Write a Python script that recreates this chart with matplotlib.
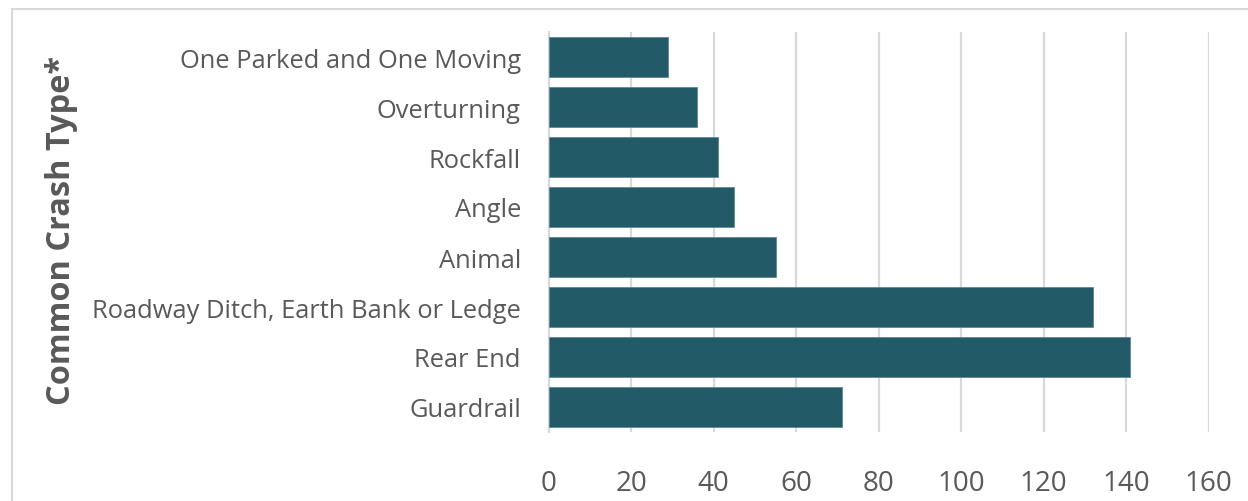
import matplotlib
matplotlib.use("Agg")
import matplotlib.pyplot as plt
from matplotlib.patches import Rectangle

# Crash counts by type (top of list first)
crash_types = [
    "One Parked and One Moving",
    "Overturning",
    "Rockfall",
    "Angle",
    "Animal",
    "Roadway Ditch, Earth Bank or Ledge",
    "Rear End",
    "Guardrail",
]
crash_counts = [29, 36, 41, 45, 55, 132, 141, 71]
x_ticks = [0, 20, 40, 60, 80, 100, 120, 140, 160]

BAR_COLOR = "#225a68"
GRID_COLOR = "#d9d9d9"
TEXT_COLOR = "#595959"

plt.rcParams["font.family"] = ["Open Sans", "DejaVu Sans"]

fig = plt.figure(figsize=(12.48, 5.02), dpi=100)
ax = fig.add_axes([548.7 / 1248, 69 / 502, 660 / 1248, 400 / 502])

positions = list(range(len(crash_types)))
ax.barh(positions, crash_counts, height=0.8, color=BAR_COLOR,
        edgecolor="#5f8792", linewidth=0.6, zorder=3)

ax.set_ylim(len(crash_types) - 0.5, -0.5)
ax.set_xlim(0, 160)
ax.set_yticks(positions)
ax.set_yticklabels(crash_types)
ax.set_xticks(x_ticks)
ax.set_xticklabels([str(t) for t in x_ticks])

ax.tick_params(axis="y", length=0, pad=20, labelsize=18.4, labelcolor=TEXT_COLOR)
ax.tick_params(axis="x", length=0, pad=27, labelsize=20, labelcolor=TEXT_COLOR)

ax.grid(axis="x", color=GRID_COLOR, linewidth=1.6, zorder=0)
for side in ["top", "right", "bottom"]:
    ax.spines[side].set_visible(False)
ax.spines["left"].set_color(GRID_COLOR)
ax.spines["left"].set_linewidth(1.6)

fig.text(62 / 1248, 1 - 230 / 502, "Common Crash Type*", rotation=90,
         ha="center", va="center", fontsize=23.4, fontweight="bold",
         color=TEXT_COLOR)

# Light chart-area frame
fig.patches.append(Rectangle((11.5 / 1248, -0.05), 1.2, 1 - 9.5 / 502 + 0.05,
                             transform=fig.transFigure, fill=False,
                             edgecolor=GRID_COLOR, linewidth=1.5))

fig.savefig("out.png", dpi=100, facecolor="white")
